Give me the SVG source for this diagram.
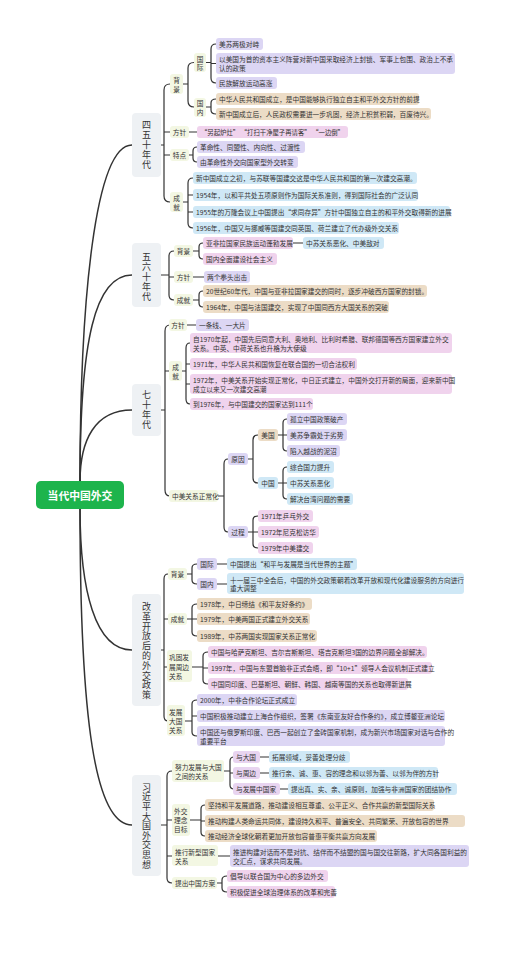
<svg xmlns="http://www.w3.org/2000/svg" width="505" height="955" viewBox="0 0 505 955">
<style>
text{font-family:"Noto Sans CJK SC","Noto Sans",sans-serif;font-size:6.7px;fill:#333;dominant-baseline:central}
.sec{font-size:9px;text-anchor:middle;writing-mode:vertical-rl;letter-spacing:1px}
.c{text-anchor:middle}
.root{font-size:10.8px;font-weight:bold;fill:#fff;text-anchor:middle}
.s{fill:#eef1f4}
.g{fill:#f3f7e3}
.p{fill:#dcd6f4}
.n{fill:#ecdcc6}
.k{fill:#f0d3ed}
.b{fill:#cfe8f6}
.m{fill:#e8d4f0}
#connectors path{fill:none;stroke:#333;stroke-width:1.2;stroke-linecap:round}
#connectors .r{stroke-width:1.5}
</style>
<rect width="505" height="955" fill="#fff"/>
<g id="connectors">
<path class="r" d="M80,482 C80,300 95,145 132,145"/>
<path class="r" d="M80,482 C80,340 95,275 132,275"/>
<path class="r" d="M80,482 C80,440 95,410 132,410"/>
<path class="r" d="M80,508 C80,590 95,650 132,650"/>
<path class="r" d="M80,508 C80,720 95,825 132,825"/>
<path d="M161,145 H164 M170,84 Q164,84 164,90 V196 Q164,202 170,202 M164,132 H170 M164,155 H170"/>
<path d="M183,84 H188 M194,62.5 Q188,62.5 188,68 V101 Q188,107 194,107"/>
<path d="M206,62.5 H211 M216,44 Q211,44 211,49 V78 Q211,83 216,83 M211,63.5 H216"/>
<path d="M206,107 H211 M216,99 Q211,99 211,103 V110 Q211,114 216,114"/>
<path d="M189,132 H197"/>
<path d="M189,155 H193 M197,147 Q193,147 193,151 V158 Q193,162 197,162"/>
<path d="M183,202 H188 M193,178 Q188,178 188,183 V223 Q188,228 193,228 M188,195 H193 M188,212 H193"/>
<path d="M161,275 H169 M174,251 Q169,251 169,256 V295 Q169,300 174,300 M169,277 H174"/>
<path d="M193,251 H199 M203,243 Q199,243 199,247 V255 Q199,259 203,259 M293,243 H303"/>
<path d="M193,277 H204"/>
<path d="M193,300 H199 M203,291 Q199,291 199,295 V303 Q199,307 203,307"/>
<path d="M161,410 H165 M170,325 Q165,325 165,331 V490 Q165,496 170,496 M165,371 H169"/>
<path d="M187,325 H196"/>
<path d="M182,371 H186 M190,343 Q186,343 186,348 V399 Q186,404 190,404 M186,364 H190 M186,384 H190"/>
<path d="M218,496 H224 M228,459 Q224,459 224,464 V527 Q224,532 228,532"/>
<path d="M248,459 H253 M258,435 Q253,435 253,440 V478 Q253,483 258,483"/>
<path d="M278,435 H283 M287,419 Q283,419 283,423 V447 Q283,451 287,451 M283,435 H287"/>
<path d="M278,483 H283 M287,467 Q283,467 283,471 V495 Q283,499 287,499 M283,483 H287"/>
<path d="M248,532 H253 M258,516 Q253,516 253,520 V544 Q253,548 258,548 M253,532 H258"/>
<path d="M161,650 H164 M168,574 Q164,574 164,579 V716 Q164,721 168,721 M164,619 H168 M164,667 H168"/>
<path d="M187,574 H192 M197,564 Q192,564 192,568 V580 Q192,584 197,584 M217,564 H227 M217,584 H227"/>
<path d="M187,619 H192 M197,604 Q192,604 192,608 V632 Q192,636 197,636 M192,619 H197"/>
<path d="M192,667 H203 M208,652 Q203,652 203,656 V680 Q203,684 208,684 M203,668 H208"/>
<path d="M185,721 H192 M197,700 Q192,700 192,704 V732 Q192,736 197,736 M192,716 H197"/>
<path d="M161,825 H167 M172,771 Q167,771 167,776 V878 Q167,883 172,883 M167,820 H172 M167,856 H172"/>
<path d="M224,771 H230 M234,757 Q230,757 230,761 V785 Q230,789 234,789 M230,773 H234 M260,757 H269 M260,773 H269 M280,789 H288"/>
<path d="M190,820 H201 M205,805 Q201,805 201,809 V832 Q201,836 205,836 M201,821 H205"/>
<path d="M218,856 H230"/>
<path d="M217,883 H222 M227,876 Q222,876 222,880 V888 Q222,892 227,892"/>
</g>

<g id="root"><rect x="36" y="481" width="88" height="28" rx="5" fill="#1db44c"/><text class="root" x="80" y="495">当代中国外交</text></g>

<g id="s1"><rect class="s" x="132" y="113" width="29" height="64" rx="4"/><text class="sec" x="146.5" y="145">四五十年代</text></g>
<g id="s1-bg"><rect class="g" x="170" y="74" width="13" height="20" rx="3"/><text class="c"><tspan x="176.5" y="80">背</tspan><tspan x="176.5" y="88.5">景</tspan></text></g>
<g id="s1-gj"><rect class="g" x="194" y="53" width="12" height="19" rx="3"/><text class="c"><tspan x="200" y="58.5">国</tspan><tspan x="200" y="67">际</tspan></text></g>
<g id="s1-gn"><rect class="g" x="194" y="98" width="12" height="19" rx="3"/><text class="c"><tspan x="200" y="103">国</tspan><tspan x="200" y="111.5">内</tspan></text></g>
<g id="s1-gj1"><rect class="p" x="216" y="38" width="47" height="12" rx="3"/><text x="219" y="44">美苏两极对峙</text></g>
<g id="s1-gj2"><rect class="p" x="216" y="53" width="239" height="21" rx="3"/><text x="219" y="59">以美国为首的资本主义阵营对新中国采取经济上封锁、军事上包围、政治上不承</text><text x="219" y="67.8">认的政策</text></g>
<g id="s1-gj3"><rect class="p" x="216" y="77" width="61" height="12" rx="3"/><text x="219" y="83">民族解放运动高涨</text></g>
<g id="s1-gn1"><rect class="n" x="216" y="93" width="203" height="12" rx="3"/><text x="219" y="99">中华人民共和国成立，是中国能够执行独立自主和平外交方针的前提</text></g>
<g id="s1-gn2"><rect class="n" x="216" y="108" width="215" height="12" rx="3"/><text x="219" y="114">新中国成立后，人民政权需要进一步巩固，经济上积贫积弱，百废待兴。</text></g>
<g id="s1-fz"><rect class="g" x="170" y="126" width="19" height="12" rx="3"/><text class="c" x="179.5" y="132">方针</text></g>
<g id="s1-fz1"><rect class="k" x="197" y="126" width="151" height="12" rx="3"/><text x="201" y="132" textLength="143" lengthAdjust="spacingAndGlyphs">“另起炉灶” “打扫干净屋子再请客” “一边倒”</text></g>
<g id="s1-td"><rect class="g" x="170" y="149" width="19" height="12" rx="3"/><text class="c" x="179.5" y="155">特点</text></g>
<g id="s1-td1"><rect class="p" x="197" y="141" width="108" height="12" rx="3"/><text x="200" y="147">革命性、同盟性、内向性、过渡性</text></g>
<g id="s1-td2"><rect class="p" x="197" y="156" width="101" height="12" rx="3"/><text x="200" y="162">由革命性外交向国家型外交转变</text></g>
<g id="s1-cj"><rect class="g" x="170" y="192" width="13" height="20" rx="3"/><text class="c"><tspan x="176.5" y="198">成</tspan><tspan x="176.5" y="206.5">就</tspan></text></g>
<g id="s1-cj1"><rect class="b" x="193" y="172" width="224" height="12" rx="3"/><text x="196" y="178">新中国成立之初，与苏联等国建交这是中华人民共和国的第一次建交高潮。</text></g>
<g id="s1-cj2"><rect class="b" x="193" y="189" width="225" height="12" rx="3"/><text x="196" y="195">1954年，以和平共处五项原则作为国际关系准则，得到国际社会的广泛认同</text></g>
<g id="s1-cj3"><rect class="b" x="193" y="206" width="257" height="12" rx="3"/><text x="196" y="212">1955年的万隆会议上中国提出“求同存异”方针中国独立自主的和平外交取得新的进展</text></g>
<g id="s1-cj4"><rect class="b" x="193" y="222" width="206" height="12" rx="3"/><text x="196" y="228">1956年，中国又与挪威等国建交同英国、荷兰建立了代办级外交关系</text></g>

<g id="s2"><rect class="s" x="132" y="243" width="29" height="64" rx="4"/><text class="sec" x="146.5" y="277">五六十年代</text></g>
<g id="s2-bg"><rect class="g" x="174" y="245" width="19" height="12" rx="3"/><text class="c" x="183.5" y="251">背景</text></g>
<g id="s2-bg1"><rect class="k" x="203" y="237" width="90" height="12" rx="3"/><text x="206" y="243">亚非拉国家民族运动蓬勃发展</text></g>
<g id="s2-bg1a"><rect class="b" x="303" y="237" width="81" height="12" rx="3"/><text x="306" y="243">中苏关系恶化、中美敌对</text></g>
<g id="s2-bg2"><rect class="k" x="203" y="253" width="74" height="12" rx="3"/><text x="206" y="259">国内全面建设社会主义</text></g>
<g id="s2-fz"><rect class="g" x="174" y="271" width="19" height="12" rx="3"/><text class="c" x="183.5" y="277">方针</text></g>
<g id="s2-fz1"><rect class="p" x="204" y="271" width="46" height="12" rx="3"/><text x="207" y="277">两个拳头出击</text></g>
<g id="s2-cj"><rect class="g" x="174" y="294" width="19" height="12" rx="3"/><text class="c" x="183.5" y="300">成就</text></g>
<g id="s2-cj1"><rect class="n" x="203" y="285" width="224" height="12" rx="3"/><text x="206" y="291">20世纪60年代，中国与亚非拉国家建交的同时，逐步冲破西方国家的封锁。</text></g>
<g id="s2-cj2"><rect class="n" x="203" y="301" width="186" height="12" rx="3"/><text x="206" y="307">1964年，中国与法国建交，实现了中国同西方大国关系的突破</text></g>

<g id="s3"><rect class="s" x="132" y="384" width="29" height="52" rx="4"/><text class="sec" x="146.5" y="410">七十年代</text></g>
<g id="s3-fz"><rect class="g" x="169" y="319" width="18" height="12" rx="3"/><text class="c" x="178" y="325">方针</text></g>
<g id="s3-fz1"><rect class="p" x="196" y="319" width="53" height="12" rx="3"/><text x="199" y="325">一条线、一大片</text></g>
<g id="s3-cj"><rect class="g" x="169" y="361" width="13" height="20" rx="3"/><text class="c"><tspan x="175.5" y="367">成</tspan><tspan x="175.5" y="375.5">就</tspan></text></g>
<g id="s3-cj1"><rect class="k" x="190" y="333" width="262" height="20" rx="3"/><text x="193" y="339">自1970年起，中国先后同意大利、奥地利、比利时希腊、联邦德国等西方国家建立外交</text><text x="193" y="347.5">关系。中英、中荷关系也升格为大使级</text></g>
<g id="s3-cj2"><rect class="k" x="190" y="358" width="167" height="12" rx="3"/><text x="193" y="364">1971年，中华人民共和国恢复在联合国的一切合法权利</text></g>
<g id="s3-cj3"><rect class="k" x="190" y="374" width="262" height="20" rx="3"/><text x="193" y="380">1972年，中美关系开始实现正常化，中日正式建立，中国外交打开新的局面，迎来新中国</text><text x="193" y="388.5">成立以来又一次建交高潮</text></g>
<g id="s3-cj4"><rect class="k" x="190" y="398" width="123" height="12" rx="3"/><text x="193" y="404">到1976年，与中国建交的国家达到111个</text></g>
<g id="s3-zm"><rect class="g" x="169" y="490" width="49" height="12" rx="3"/><text x="172" y="496">中美关系正常化</text></g>
<g id="s3-yy"><rect class="p" x="228" y="453" width="20" height="12" rx="3"/><text class="c" x="238" y="459">原因</text></g>
<g id="s3-us"><rect class="n" x="258" y="429" width="20" height="12" rx="3"/><text class="c" x="268" y="435">美国</text></g>
<g id="s3-us1"><rect class="p" x="287" y="413" width="60" height="12" rx="3"/><text x="290" y="419">孤立中国政策破产</text></g>
<g id="s3-us2"><rect class="p" x="287" y="429" width="60" height="12" rx="3"/><text x="290" y="435">美苏争霸处于劣势</text></g>
<g id="s3-us3"><rect class="p" x="287" y="445" width="53" height="12" rx="3"/><text x="290" y="451">陷入越战的泥沼</text></g>
<g id="s3-cn"><rect class="b" x="258" y="477" width="20" height="12" rx="3"/><text class="c" x="268" y="483">中国</text></g>
<g id="s3-cn1"><rect class="b" x="287" y="461" width="47" height="12" rx="3"/><text x="290" y="467">综合国力提升</text></g>
<g id="s3-cn2"><rect class="b" x="287" y="477" width="47" height="12" rx="3"/><text x="290" y="483">中苏关系恶化</text></g>
<g id="s3-cn3"><rect class="b" x="287" y="493" width="66" height="12" rx="3"/><text x="290" y="499">解决台湾问题的需要</text></g>
<g id="s3-gc"><rect class="p" x="228" y="526" width="20" height="12" rx="3"/><text class="c" x="238" y="532">过程</text></g>
<g id="s3-gc1"><rect class="k" x="258" y="510" width="55" height="12" rx="3"/><text x="261" y="516">1971年乒乓外交</text></g>
<g id="s3-gc2"><rect class="k" x="258" y="526" width="61" height="12" rx="3"/><text x="261" y="532">1972年尼克松访华</text></g>
<g id="s3-gc3"><rect class="k" x="258" y="542" width="55" height="12" rx="3"/><text x="261" y="548">1979年中美建交</text></g>

<g id="s4"><rect class="s" x="132" y="594" width="29" height="112" rx="4"/><text class="sec" x="146.5" y="651" style="letter-spacing:0.8px">改革开放后的外交政策</text></g>
<g id="s4-bg"><rect class="g" x="168" y="568" width="19" height="12" rx="3"/><text class="c" x="177.5" y="574">背景</text></g>
<g id="s4-gj"><rect class="p" x="197" y="558" width="20" height="12" rx="3"/><text class="c" x="207" y="564">国际</text></g>
<g id="s4-gj1"><rect class="b" x="227" y="558" width="130" height="12" rx="3"/><text x="230" y="564">中国提出“和平与发展是当代世界的主题”</text></g>
<g id="s4-gn"><rect class="p" x="197" y="578" width="20" height="12" rx="3"/><text class="c" x="207" y="584">国内</text></g>
<g id="s4-gn1"><rect class="b" x="227" y="573" width="237" height="21" rx="3"/><text x="230" y="579.5">十一届三中全会后，中国的外交政策朝着改革开放和现代化建设服务的方向进行</text><text x="230" y="588">重大调整</text></g>
<g id="s4-cj"><rect class="g" x="168" y="613" width="19" height="12" rx="3"/><text class="c" x="177.5" y="619">成就</text></g>
<g id="s4-cj1"><rect class="n" x="197" y="598" width="115" height="12" rx="3"/><text x="200" y="604">1978年，中日缔结《和平友好条约》</text></g>
<g id="s4-cj2"><rect class="n" x="197" y="613" width="113" height="12" rx="3"/><text x="200" y="619">1979年，中美两国正式建立外交关系</text></g>
<g id="s4-cj3"><rect class="n" x="197" y="630" width="120" height="12" rx="3"/><text x="200" y="636">1989年，中苏两国实现国家关系正常化</text></g>
<g id="s4-zb"><rect class="g" x="167" y="650" width="25" height="32" rx="3"/><text><tspan x="169" y="657">巩固发</tspan><tspan x="169" y="666.5">展周边</tspan><tspan x="169" y="676">关系</tspan></text></g>
<g id="s4-zb1"><rect class="k" x="208" y="646" width="219" height="12" rx="3"/><text x="211" y="652">中国与哈萨克斯坦、吉尔吉斯斯坦、塔吉克斯坦3国的边界问题全部解决。</text></g>
<g id="s4-zb2"><rect class="k" x="208" y="662" width="224" height="12" rx="3"/><text x="211" y="668">1997年，中国与东盟首脑非正式会晤，即“10+1”领导人会议机制正式建立</text></g>
<g id="s4-zb3"><rect class="k" x="208" y="678" width="200" height="12" rx="3"/><text x="211" y="684">中国同印度、巴基斯坦、朝鲜、韩国、越南等国的关系也取得新进展</text></g>
<g id="s4-dg"><rect class="g" x="167" y="705" width="18" height="31" rx="3"/><text><tspan x="169" y="712">发展</tspan><tspan x="169" y="721">大国</tspan><tspan x="169" y="729.5">关系</tspan></text></g>
<g id="s4-dg1"><rect class="p" x="197" y="694" width="100" height="12" rx="3"/><text x="200" y="700">2000年，中非合作论坛正式成立</text></g>
<g id="s4-dg2"><rect class="p" x="197" y="710" width="248" height="12" rx="3"/><text x="200" y="716">中国积极推动建立上海合作组织，签署《东南亚友好合作条约》，成立博鳌亚洲论坛</text></g>
<g id="s4-dg3"><rect class="p" x="197" y="726" width="248" height="20" rx="3"/><text x="200" y="732">中国还与俄罗斯印度、巴西一起创立了金砖国家机制，成为新兴市场国家对话与合作的</text><text x="200" y="740.5">重要平台</text></g>

<g id="s5"><rect class="s" x="132" y="775" width="29" height="101" rx="4"/><text class="sec" x="146.5" y="826" style="letter-spacing:0.6px">习近平大国外交思想</text></g>
<g id="s5-nl"><rect class="g" x="172" y="760" width="52" height="22" rx="3"/><text><tspan x="175" y="767">努力发展与大国</tspan><tspan x="175" y="775.5">之间的关系</tspan></text></g>
<g id="s5-nl1"><rect class="m" x="233" y="751" width="27" height="12" rx="3"/><text x="236" y="757">与大国</text></g>
<g id="s5-nl1a"><rect class="b" x="269" y="751" width="81" height="12" rx="3"/><text x="272" y="757">拓展领域，妥善处理分歧</text></g>
<g id="s5-nl2"><rect class="m" x="233" y="767" width="27" height="12" rx="3"/><text x="236" y="773">与周边</text></g>
<g id="s5-nl2a"><rect class="b" x="269" y="767" width="169" height="12" rx="3"/><text x="272" y="773">推行亲、诚、惠、容的理念和以邻为善、以邻为伴的方针</text></g>
<g id="s5-nl3"><rect class="m" x="233" y="783" width="47" height="12" rx="3"/><text x="236" y="789">与发展中国家</text></g>
<g id="s5-nl3a"><rect class="b" x="288" y="783" width="169" height="12" rx="3"/><text x="291" y="789">提出真、实、亲、诚原则，加强与非洲国家的团结协作</text></g>
<g id="s5-ln"><rect class="g" x="172" y="804" width="18" height="32" rx="3"/><text><tspan x="174" y="811">外交</tspan><tspan x="174" y="820">理念</tspan><tspan x="174" y="829">目标</tspan></text></g>
<g id="s5-ln1"><rect class="n" x="205" y="799" width="229" height="12" rx="3"/><text x="208" y="805">坚持和平发展道路，推动建设相互尊重、公平正义、合作共赢的新型国际关系</text></g>
<g id="s5-ln2"><rect class="n" x="205" y="815" width="260" height="12" rx="3"/><text x="208" y="821">推动构建人类命运共同体，建设持久和平、普遍安全、共同繁荣、开放包容的世界</text></g>
<g id="s5-ln3"><rect class="n" x="205" y="830" width="172" height="12" rx="3"/><text x="208" y="836">推动经济全球化朝着更加开放包容普惠平衡共赢方向发展</text></g>
<g id="s5-xx"><rect class="g" x="172" y="845" width="46" height="21" rx="3"/><text><tspan x="175" y="852">推行新型国家</tspan><tspan x="175" y="860.5">关系</tspan></text></g>
<g id="s5-xx1"><rect class="p" x="230" y="845" width="239" height="22" rx="3"/><text x="233" y="852">推进构建对话而不是对抗、结伴而不结盟的国与国交往新路，扩大同各国利益的</text><text x="233" y="860.5">交汇点，谋求共同发展。</text></g>
<g id="s5-fa"><rect class="g" x="172" y="877" width="45" height="12" rx="3"/><text x="175" y="883">提出中国方案</text></g>
<g id="s5-fa1"><rect class="k" x="227" y="870" width="101" height="12" rx="3"/><text x="230" y="876">倡导以联合国为中心的多边外交</text></g>
<g id="s5-fa2"><rect class="k" x="227" y="886" width="108" height="12" rx="3"/><text x="230" y="892">积极促进全球治理体系的改革和完善</text></g>
</svg>
